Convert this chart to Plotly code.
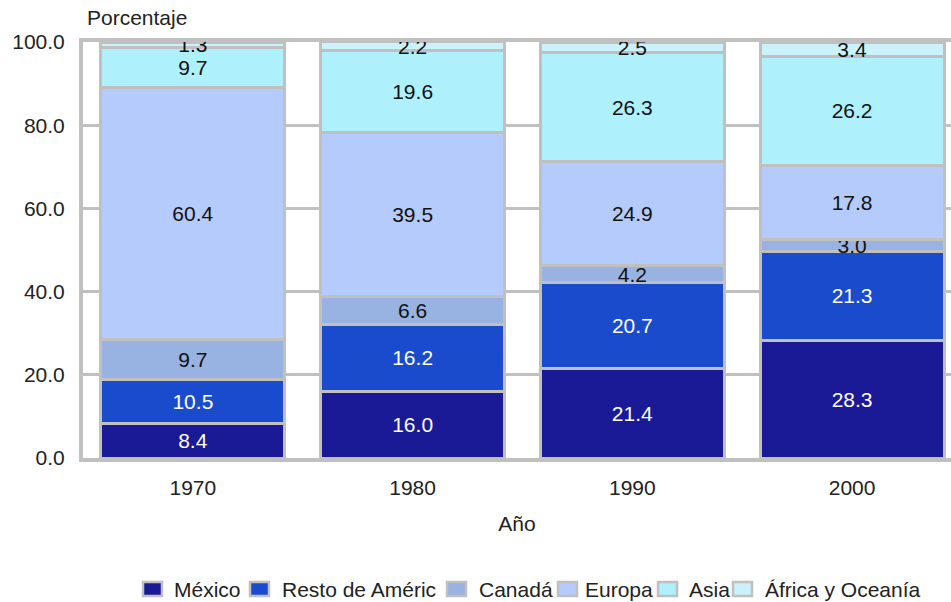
import plotly.graph_objects as go

years = ["1970", "1980", "1990", "2000"]
series_names = ["México", "Resto de Améric", "Canadá", "Europa", "Asia", "África y Oceanía"]
mexico = [8.4, 16.0, 21.4, 28.3]
resto_america = [10.5, 16.2, 20.7, 21.3]
canada = [9.7, 6.6, 4.2, 3.0]
europa = [60.4, 39.5, 24.9, 17.8]
asia = [9.7, 19.6, 26.3, 26.2]
africa_oceania = [1.3, 2.2, 2.5, 3.4]
y_ticks = [0, 20, 40, 60, 80, 100]

values = [mexico, resto_america, canada, europa, asia, africa_oceania]
colors = ["#1a1a96", "#1a4bcc", "#98b2e2", "#b4cbfb", "#aef0fc", "#cbf2fb"]
text_colors = ["white", "white", "#111111", "#111111", "#111111", "#111111"]

FONT = "Liberation Sans, Arial, sans-serif"
GRAY = "#c0c0c0"
FS = 21

# figure geometry (px)
W, H = 951, 602
ML, MR, MT, MB = 83, 0, 42, 144
PW, PH = W - ML - MR, H - MT - MB

fig = go.Figure()
for name, vals, col, tcol in zip(series_names, values, colors, text_colors):
    fig.add_trace(go.Bar(
        x=years, y=vals, name=name, showlegend=False,
        marker=dict(color=col, line=dict(color=GRAY, width=3)),
        text=[f"{v:.1f}" for v in vals],
        textposition="inside", insidetextanchor="middle",
        textfont=dict(color=tcol, size=FS, family=FONT),
        constraintext="none",
    ))

# custom legend (layout positions in px)
leg_sq_x = [143, 250, 447, 558, 658, 733]
leg_tx_x = [172, 280, 477, 583, 687, 763]
leg_y = 589
sq_w, sq_h = 19, 14

def px2x(px):
    return (px - ML) / PW

def py2y(py):
    return (H - MB - py) / PH

shapes = []
annotations = []
for name, col, sx, tx in zip(series_names, colors, leg_sq_x, leg_tx_x):
    shapes.append(dict(
        type="rect", xref="paper", yref="paper",
        x0=px2x(sx), x1=px2x(sx + sq_w),
        y0=py2y(leg_y + sq_h / 2), y1=py2y(leg_y - sq_h / 2),
        fillcolor=col, line=dict(color=GRAY, width=2.5), layer="above",
    ))
    annotations.append(dict(
        text=name, xref="paper", yref="paper", x=px2x(tx), y=py2y(leg_y),
        xanchor="left", yanchor="middle", showarrow=False,
        font=dict(size=FS, family=FONT, color="#222"),
    ))

annotations.append(dict(
    text="Porcentaje", xref="paper", yref="paper", x=px2x(85), y=py2y(18),
    xanchor="left", yanchor="middle", showarrow=False,
    font=dict(size=FS, family=FONT, color="#222"),
))

fig.update_layout(
    width=W, height=H,
    barmode="stack", bargap=36/220,
    plot_bgcolor="white", paper_bgcolor="white",
    margin=dict(l=ML, r=MR, t=MT, b=MB, autoexpand=False),
    font=dict(family=FONT, size=FS, color="#222"),
    showlegend=False,
    xaxis=dict(
        range=[-0.5, 3.45], showgrid=False, automargin=False,
        showline=True, linecolor=GRAY, linewidth=4, mirror=True,
        ticks="", tickfont=dict(size=FS), ticklabelstandoff=8,
        title=dict(text="Año", font=dict(size=FS), standoff=19),
    ),
    yaxis=dict(
        range=[0, 100], tickvals=y_ticks, automargin=False,
        ticktext=[f"{v:.1f}" for v in y_ticks],
        showgrid=True, gridcolor=GRAY, gridwidth=3,
        showline=True, linecolor=GRAY, linewidth=4, mirror=True,
        zeroline=False, ticks="", ticklabelstandoff=10,
        tickfont=dict(size=FS),
    ),
    shapes=shapes,
    annotations=annotations,
)

fig.write_html("out.html", config={"displayModeBar": False},
               post_script="document.body.style.margin='0';")
